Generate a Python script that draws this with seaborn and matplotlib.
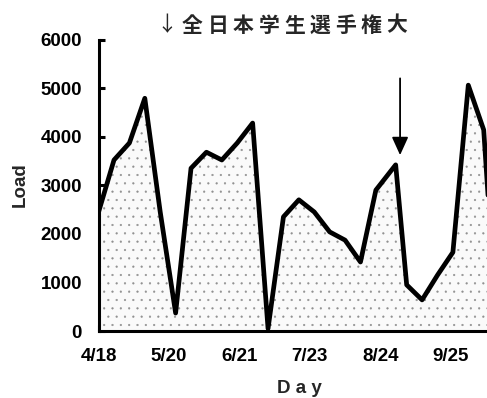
import matplotlib
matplotlib.use("Agg")
import matplotlib.pyplot as plt
import numpy as np
import pandas as pd
import seaborn as sns

# Weekly training load over the season
dates = ["4/18", "4/25", "5/2", "5/9", "5/16", "5/23", "5/30", "6/6", "6/13",
         "6/20", "6/27", "7/4", "7/11", "7/18", "7/25", "8/1", "8/8", "8/15",
         "8/22", "8/31", "9/5", "9/12", "9/19", "9/26", "10/3", "10/10", "10/15"]
load = [2450, 3520, 3870, 4790, 2450, 370, 3350, 3680, 3520,
        3870, 4280, 50, 2350, 2700, 2450, 2040, 1870, 1420,
        2900, 3420, 950, 640, 1150, 1620, 5060, 4140, 700]

tick_dates = ["4/18", "5/20", "6/21", "7/23", "8/24", "9/25"]
y_ticks = [0, 1000, 2000, 3000, 4000, 5000, 6000]

# Championship marker
event_title = "↓全日本学生選手権大"
event_date = "9/2"
event_from, event_to = 5200, 3620

start = pd.Timestamp("2000-04-18")


def day_of(s):
    return (pd.Timestamp("2000/" + s) - start).days


df = pd.DataFrame({"day": [day_of(d) for d in dates], "load": load})

sns.set_style("ticks")
plt.rcParams["font.family"] = ["Liberation Sans", "DejaVu Sans"]
plt.rcParams["hatch.linewidth"] = 0.35
plt.rcParams["hatch.color"] = "#909090"

fig = plt.figure(figsize=(4.87, 3.98), dpi=100)
W, H = 487, 398
ax = fig.add_axes([98.6 / W, 67 / H, 1 - 98.6 / W, (331 - 39.5) / H])

# stippled area under the load curve
ax.fill_between(df["day"], df["load"], 0, facecolor="#fafafa",
                edgecolor="#909090", hatch="..", linewidth=0)
sns.lineplot(data=df, x="day", y="load", color="black", lw=3.4, ax=ax)

ax.annotate("", xy=(day_of(event_date), event_to),
            xytext=(day_of(event_date), event_from),
            arrowprops=dict(arrowstyle="-|>,head_length=1.1,head_width=0.5",
                            color="black", lw=1.3, shrinkA=0, shrinkB=0))

ax.set_xlim(0, 176.5)
ax.set_ylim(0, 6000)
ax.set_yticks(y_ticks)
ax.set_xticks([day_of(d) for d in tick_dates])
ax.set_xticklabels(tick_dates)
ax.set_xlabel("")
ax.set_ylabel("")
ax.tick_params(direction="in", length=4, width=2.2, pad=12, labelsize=13.5,
               color="black", labelcolor="black")
for lab in ax.get_xticklabels() + ax.get_yticklabels():
    lab.set_fontweight("bold")
for side in ("top", "right"):
    ax.spines[side].set_visible(False)
for side in ("left", "bottom"):
    ax.spines[side].set_linewidth(2.2)
    ax.spines[side].set_color("black")

fig.text(20 / W, 1 - 185 / H, "Load", rotation=90, ha="center", va="center",
         fontsize=13.5, fontweight="bold")
fig.text(277 / W, 5 / H, "D a y", ha="left", va="baseline",
         fontsize=13.5, fontweight="bold")

for i, ch in enumerate(event_title):
    fig.text((167 + 25.5 * i) / W, 1 - 25 / H, ch, ha="center", va="center",
             family=["Noto Sans CJK JP", "DejaVu Sans"], fontsize=15,
             fontweight="normal" if i == 0 else "bold")

fig.savefig("out.png", dpi=100)
